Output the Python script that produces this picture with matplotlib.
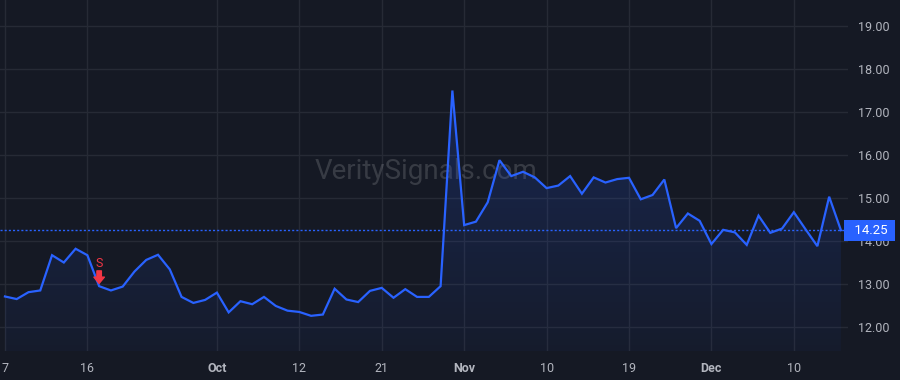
import matplotlib
matplotlib.use("Agg")
import matplotlib.pyplot as plt
import matplotlib.transforms as mtransforms
from matplotlib.colors import LinearSegmentedColormap
import numpy as np

# ---- data ----
prices = [12.71, 12.65, 12.81, 12.85, 13.67, 13.50, 13.82, 13.67, 12.95, 12.85,
          12.94, 13.29, 13.56, 13.68, 13.34, 12.70, 12.56, 12.63, 12.80, 12.34,
          12.60, 12.53, 12.70, 12.49, 12.38, 12.35, 12.26, 12.29, 12.89, 12.64,
          12.58, 12.84, 12.91, 12.68, 12.88, 12.70, 12.70, 12.95, 17.50, 14.37,
          14.45, 14.90, 15.88, 15.51, 15.61, 15.48, 15.23, 15.29, 15.51, 15.10,
          15.48, 15.36, 15.44, 15.47, 14.97, 15.07, 15.43, 14.30, 14.64, 14.47,
          13.93, 14.26, 14.20, 13.91, 14.59, 14.19, 14.29, 14.67, 14.27, 13.88,
          15.03, 14.25]
tick_pos = [0, 7, 18, 25, 32, 39, 46, 53, 60, 67]
tick_labels = ["7", "16", "Oct", "12", "21", "Nov", "10", "19", "Dec", "10"]
month_labels = {"Oct", "Nov", "Dec"}
y_ticks = [12, 13, 14, 15, 16, 17, 18, 19]
signal_index = 8
signal_label = "S"
current_price = 14.25
watermark = "VeritySignals.com"

# ---- style ----
BG = "#151924"
GRID = "#262a35"
LINE = "#2962FF"
TXT = "#B2B5BE"
RED = "#F23645"
plt.rcParams['font.family'] = ['Roboto', 'DejaVu Sans']

x = np.arange(len(prices))
y = np.array(prices)

fig = plt.figure(figsize=(9, 3.8), dpi=100, facecolor=BG)
ax = fig.add_axes([0.0, 29 / 380, 848 / 900, 351 / 380], facecolor=BG)
ax.set_xlim(-0.42, 71.6)
ax.set_ylim(11.442, 19.605)

for s in ax.spines.values():
    s.set_visible(False)

ax.set_xticks(tick_pos)
ax.set_xticklabels(tick_labels)
for lab in ax.get_xticklabels():
    if lab.get_text() in month_labels:
        lab.set_fontweight('bold')
ax.set_yticks(y_ticks)
ax.set_yticklabels([f"{v:.2f}" for v in y_ticks])
ax.yaxis.tick_right()
ax.tick_params(axis='both', length=0, colors=TXT, labelsize=9)
ax.tick_params(axis='y', pad=7)
ax.tick_params(axis='x', pad=8)
ax.grid(True, color=GRID, linewidth=1, zorder=0)
ax.set_axisbelow(True)

# watermark
ax.text(0.502, 0.51, watermark, transform=ax.transAxes, ha='center', va='center',
        fontsize=20, color='#ffffff', alpha=0.15, zorder=1)

# gradient area fill
ylo, yhi = ax.get_ylim()
poly = ax.fill_between(x, y, ylo, color='none', zorder=2)
grad = np.linspace(0.0, 1.0, 256).reshape(-1, 1)
cmap = LinearSegmentedColormap.from_list(
    'g', [(0, (0.16, 0.38, 1.0, 0.04)), (1, (0.16, 0.38, 1.0, 0.26))])
im = ax.imshow(grad, cmap=cmap, aspect='auto', origin='lower',
               extent=[x[0], x[-1], ylo, yhi], zorder=2, interpolation='bilinear')
path = poly.get_paths()[0]
im.set_clip_path(path, transform=ax.transData)
ax.set_xlim(-0.42, 71.6)
ax.set_ylim(ylo, yhi)

# price line
ax.plot(x, y, color=LINE, linewidth=1.6, zorder=4, solid_joinstyle='miter')

# current price dotted line
ax.axhline(current_price, color=LINE, linewidth=1.0, linestyle=(0, (1.5, 1.5)), zorder=3)

# price label box
trans = mtransforms.blended_transform_factory(ax.transAxes, ax.transData)
ax.text(1.0, current_price, f"  {current_price:.2f} ", transform=trans, ha='left',
        va='center', color='white', fontsize=9.5, zorder=6, clip_on=False,
        bbox=dict(boxstyle='square,pad=0.3', fc=LINE, ec='none'))

# signal marker
ax.annotate('', xy=(signal_index, prices[signal_index]), xytext=(0, 11),
            textcoords='offset points',
            arrowprops=dict(arrowstyle='simple,head_length=0.45,head_width=0.75,tail_width=0.32',
                            color=RED, shrinkA=0, shrinkB=2), zorder=5)
ax.annotate(signal_label, xy=(signal_index, prices[signal_index]), xytext=(0, 16),
            textcoords='offset points', ha='center', va='center', color=RED,
            fontsize=9, zorder=5)

fig.savefig("out.png", dpi=100, facecolor=BG)
